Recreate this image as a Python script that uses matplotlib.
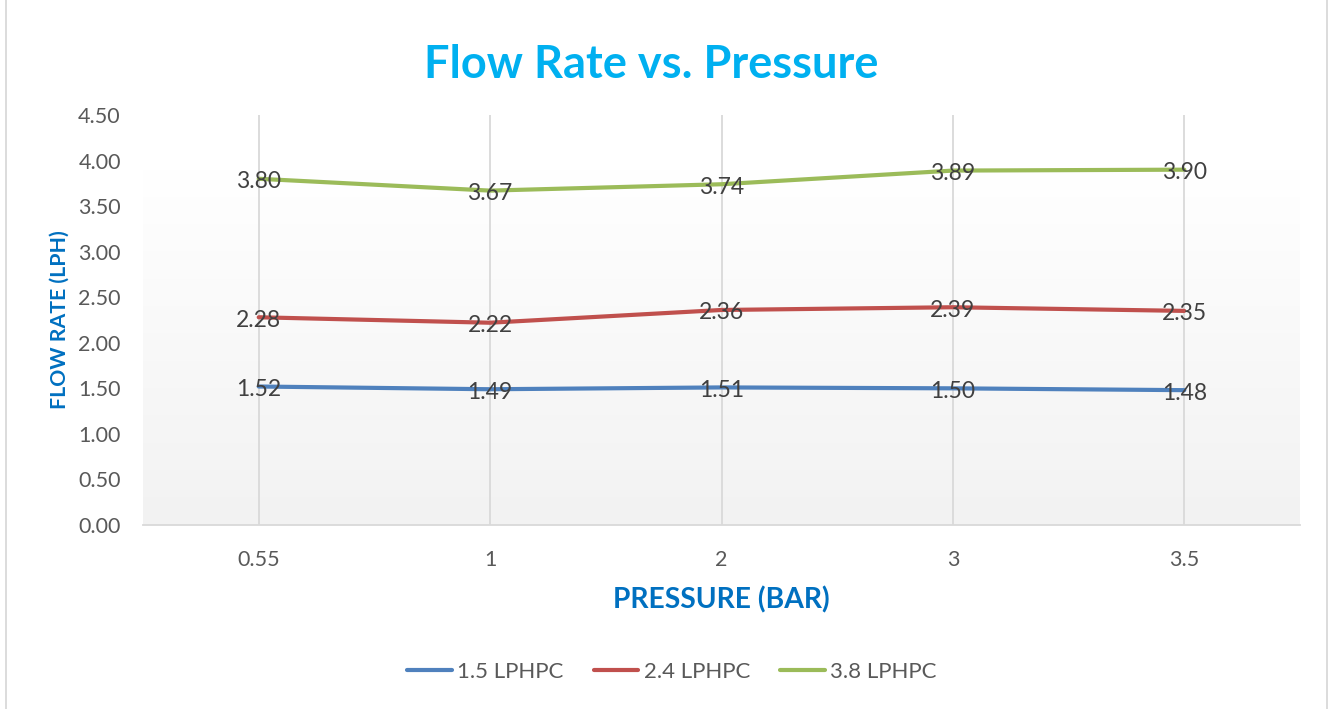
import matplotlib
matplotlib.use("Agg")
import matplotlib.pyplot as plt
import numpy as np
from matplotlib.patches import Rectangle
from matplotlib.colors import LinearSegmentedColormap

categories = ["0.55", "1", "2", "3", "3.5"]
series_names = ["1.5 LPHPC", "2.4 LPHPC", "3.8 LPHPC"]
s_15 = [1.52, 1.49, 1.51, 1.50, 1.48]
s_24 = [2.28, 2.22, 2.36, 2.39, 2.35]
s_38 = [3.80, 3.67, 3.74, 3.89, 3.90]
colors = ["#4F81BD", "#C0504D", "#9BBB59"]
yticks = [0.0, 0.5, 1.0, 1.5, 2.0, 2.5, 3.0, 3.5, 4.0, 4.5]

plt.rcParams['font.family'] = ['Lato', 'DejaVu Sans']

fig = plt.figure(figsize=(13.3, 7.09), dpi=100)
fig.patch.set_facecolor("white")
ax = fig.add_axes([143/1330, 1-525/709, (1300-143)/1330, (525-115)/709])

x = np.arange(len(categories))
# gradient background
grad = np.linspace(0, 1, 256).reshape(-1, 1)
cmap = LinearSegmentedColormap.from_list("g", ["#F2F2F2", "#FFFFFF"])
ax.imshow(grad, extent=[-0.5, 4.5, 0, 3.9], origin="lower", aspect="auto",
          cmap=cmap, zorder=0)

for xi in x:
    ax.axvline(xi, color="#D9D9D9", lw=1.3, zorder=1)

for vals, name, c in zip([s_15, s_24, s_38], series_names, colors):
    ax.plot(x, vals, color=c, lw=3, label=name, zorder=3, solid_capstyle="round")
    for xi, v in zip(x, vals):
        ax.annotate(f"{v:.2f}", (xi, v), xytext=(0, -3), textcoords="offset pixels",
                    ha="center", va="center", fontsize=16.5, color="#404040", zorder=4)

ax.set_xlim(-0.5, 4.5)
ax.set_ylim(0, 4.5)
ax.set_xticks(x)
ax.set_xticklabels(categories)
ax.set_yticks(yticks)
ax.set_yticklabels([f"{t:.2f}" for t in yticks])
ax.tick_params(axis="both", length=0, labelsize=15.5, labelcolor="#595959")
ax.tick_params(axis="x", pad=18)
ax.tick_params(axis="y", pad=16)
for s in ["top", "right", "left"]:
    ax.spines[s].set_visible(False)
ax.spines["bottom"].set_color("#D9D9D9")
ax.spines["bottom"].set_linewidth(1.3)
ax.set_facecolor("white")

ax.set_xlabel("PRESSURE (BAR)", fontsize=20.3, fontweight="bold", color="#0070C0", labelpad=12)
ax.set_ylabel("FLOW RATE (LPH)", fontsize=15.3, fontweight="bold", color="#0070C0", labelpad=6)

fig.text(651/1330, 1-65/709, "Flow Rate vs. Pressure", ha="center", va="center",
         fontsize=32.5, fontweight="bold", color="#00B0F0")

leg = fig.legend(loc="center", bbox_to_anchor=(672/1330, 1-672/709), ncol=3, frameon=False,
                 fontsize=16, handlelength=2.0, columnspacing=1.35, handletextpad=0.25)
for t in leg.get_texts():
    t.set_color("#595959")

fig.patches.append(Rectangle((6/1330, -0.01), (1327-6)/1330, 1.02, transform=fig.transFigure,
                             fill=False, edgecolor="#D9D9D9", lw=1.3))

fig.savefig("out.png", dpi=100)
